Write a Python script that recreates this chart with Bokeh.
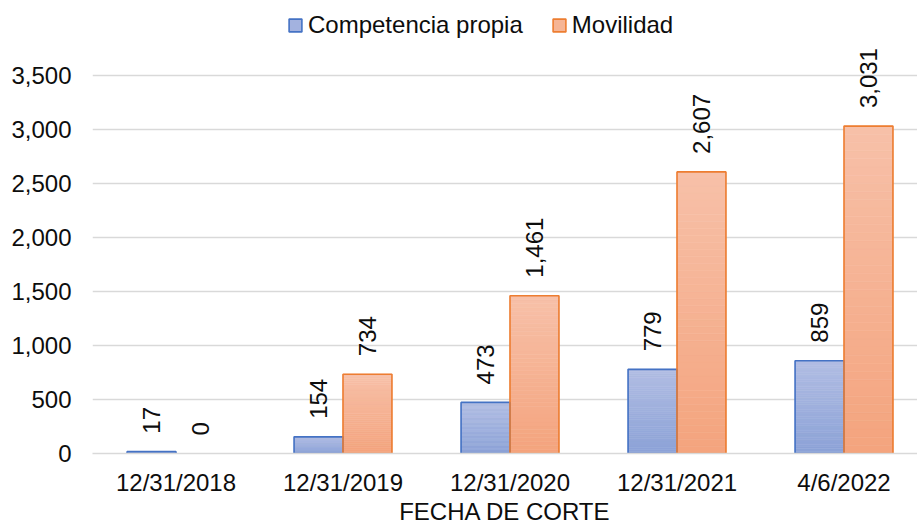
import numpy as np
from bokeh.plotting import figure
from bokeh.models import (ColumnDataSource, Range1d, FixedTicker, NumeralTickFormatter,
                          Legend, LegendItem)
from bokeh.transform import dodge
from bokeh.core.properties import value
from bokeh.embed import file_html
from bokeh.resources import INLINE

# ---- data ----
categories = ["12/31/2018", "12/31/2019", "12/31/2020", "12/31/2021", "4/6/2022"]
competencia = [17, 154, 473, 779, 859]
movilidad = [0, 734, 1461, 2607, 3031]
series_names = ["Competencia propia", "Movilidad"]
y_ticks = [0, 500, 1000, 1500, 2000, 2500, 3000, 3500]
x_title = "FECHA DE CORTE"

# ---- style ----
FONT = "Liberation Sans"
FS = "24px"
TXT = "#0d0d0d"
GRID = "#D9D9D9"
BLUE_LINE, BLUE_TOP, BLUE_BOT = "#4472C4", "#B1BDE3", "#8CA2D7"
ORNG_LINE, ORNG_TOP, ORNG_BOT = "#ED7D31", "#F7C0A8", "#F4A47E"
BAR_W = 0.293
OFF = BAR_W / 2
W, H = 917, 527
LEFT, BOTTOM = 92, 74


def _rgb(h):
    h = h.lstrip("#")
    return [int(h[i:i + 2], 16) for i in (0, 2, 4)]


def gradient_source(vals, c_bot, c_top, n=40):
    a, b = np.array(_rgb(c_bot)), np.array(_rgb(c_top))
    d = dict(x=[], bottom=[], top=[], color=[])
    for i, v in enumerate(vals):
        if v <= 0:
            continue
        for k in range(n):
            t = k / (n - 1)
            c = (a + (b - a) * t).round().astype(int)
            d["x"].append(i)
            d["bottom"].append(v * k / n)
            d["top"].append(v * (k + 1) / n)
            d["color"].append("#%02x%02x%02x" % tuple(c))
    return ColumnDataSource(d)


idx = list(range(len(categories)))
xr = Range1d(-0.5, 4.44)
p = figure(width=W, height=H, x_range=xr, y_range=Range1d(0, 4194),
           output_backend="svg", toolbar_location=None,
           min_border_left=LEFT, min_border_right=0, min_border_top=0, min_border_bottom=BOTTOM)
p.outline_line_color = None
p.background_fill_color = "white"
p.border_fill_color = "white"

# gradient bodies
for vals, cb, ct, off in [(competencia, BLUE_BOT, BLUE_TOP, -OFF), (movilidad, ORNG_BOT, ORNG_TOP, OFF)]:
    src = gradient_source(vals, cb, ct)
    p.vbar(x=dodge("x", off, range=xr), bottom="bottom", top="top", width=BAR_W, source=src,
           fill_color="color", line_color="color", line_width=0.6)

# outlines
main = ColumnDataSource(dict(
    x=idx, comp=competencia, mov=movilidad,
    comp_a=[1 if v > 0 else 0 for v in competencia],
    mov_a=[1 if v > 0 else 0 for v in movilidad],
    comp_lbl=["{:,}".format(v) for v in competencia],
    mov_lbl=["{:,}".format(v) for v in movilidad],
))
p.vbar(x=dodge("x", -OFF, range=xr), top="comp", width=BAR_W, source=main,
       fill_alpha=0, line_color=BLUE_LINE, line_alpha="comp_a", line_width=1.6)
p.vbar(x=dodge("x", OFF, range=xr), top="mov", width=BAR_W, source=main,
       fill_alpha=0, line_color=ORNG_LINE, line_alpha="mov_a", line_width=1.6)

# data labels
for col, lbl, off in [("comp", "comp_lbl", -OFF), ("mov", "mov_lbl", OFF)]:
    p.text(x=dodge("x", off, range=xr), y=col, text=lbl, source=main, angle=np.pi / 2,
           text_align="left", text_baseline="middle", y_offset=-18,
           text_font=value(FONT), text_font_size=value(FS), text_color=TXT)

# legend (dummy renderers that draw nothing in the plot)
nan = float("nan")
rb = p.vbar(x="x", top="top", width=0.1, source=ColumnDataSource(dict(x=[nan], top=[nan])),
            fill_color="#A3B2DF", line_color=BLUE_LINE, line_width=1.6)
ro = p.vbar(x="x", top="top", width=0.1, source=ColumnDataSource(dict(x=[nan], top=[nan])),
            fill_color="#F6B595", line_color=ORNG_LINE, line_width=1.6)
legend = Legend(items=[LegendItem(label=series_names[0], renderers=[rb]),
                       LegendItem(label=series_names[1], renderers=[ro])],
                location=(195, 414), orientation="horizontal",
                glyph_width=16, glyph_height=16, label_standoff=5, spacing=28,
                padding=0, margin=0, border_line_color=None, background_fill_alpha=0,
                label_text_font=FONT, label_text_font_size=FS, label_text_color=TXT)
p.add_layout(legend)

# axes
p.xgrid.grid_line_color = None
p.ygrid.ticker = FixedTicker(ticks=y_ticks)
p.ygrid.grid_line_color = GRID
p.ygrid.grid_line_width = 1.5

xa = p.xaxis[0]
xa.ticker = FixedTicker(ticks=idx)
xa.major_label_overrides = {i: c for i, c in zip(idx, categories)}
xa.axis_line_color = GRID
xa.axis_line_width = 1.5
xa.major_tick_line_color = None
xa.minor_tick_line_color = None
xa.major_tick_out = 0
xa.major_tick_in = 0
xa.major_label_standoff = 15
xa.major_label_text_font = FONT
xa.major_label_text_font_size = FS
xa.major_label_text_color = TXT
xa.major_label_text_line_height = 1.0
xa.axis_label = x_title
xa.axis_label_standoff = -1
xa.axis_label_text_font = FONT
xa.axis_label_text_font_size = FS
xa.axis_label_text_font_style = "normal"
xa.axis_label_text_color = TXT
xa.axis_label_text_line_height = 1.0

ya = p.yaxis[0]
ya.ticker = FixedTicker(ticks=y_ticks)
ya.formatter = NumeralTickFormatter(format="0,0")
ya.axis_line_color = None
ya.major_tick_line_color = None
ya.minor_tick_line_color = None
ya.major_tick_out = 0
ya.major_tick_in = 0
ya.major_label_standoff = 21
ya.major_label_text_font = FONT
ya.major_label_text_font_size = FS
ya.major_label_text_color = TXT

open("out.html", "w").write(file_html(p, INLINE))
